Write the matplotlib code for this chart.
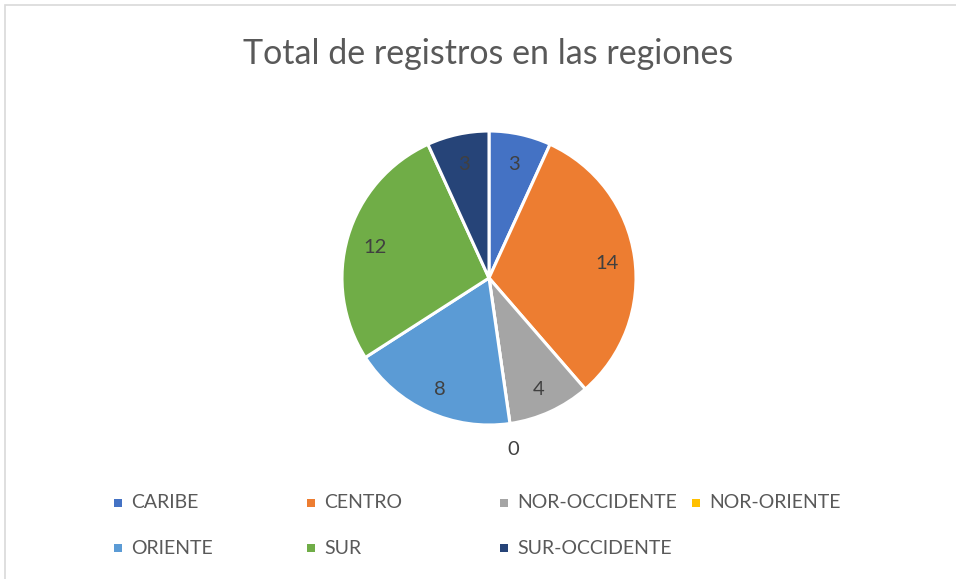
import numpy as np
import matplotlib
matplotlib.use("Agg")
from matplotlib import pyplot as plt
from matplotlib.patches import Rectangle

# chart data
regions = ['CARIBE', 'CENTRO', 'NOR-OCCIDENTE', 'NOR-ORIENTE',
           'ORIENTE', 'SUR', 'SUR-OCCIDENTE']
counts = [3, 14, 4, 0, 8, 12, 3]
colors = ['#4472C4', '#ED7D31', '#A5A5A5', '#FFC000',
          '#5B9BD5', '#70AD47', '#264478']

W, H = 956, 579
plt.rcParams['font.family'] = ['Lato', 'DejaVu Sans']

fig = plt.figure(figsize=(W / 100, H / 100), dpi=100)
fig.patch.set_facecolor('white')

# chart border (cropped at right/bottom)
fig.add_artist(Rectangle((5 / W, -0.1), 1.2, 1 - 5 / H + 0.1,
                         transform=fig.transFigure, fill=False,
                         edgecolor='#D9D9D9', linewidth=1.2))

fig.text(488 / W, 1 - 54 / H, 'Total de registros en las regiones',
         ha='center', va='center', fontsize=24.5, color='#595959')

# pie
cx, cy, r = 489, 278, 147
half = 200
ax = fig.add_axes([(cx - half) / W, (H - cy - half) / H, 2 * half / W, 2 * half / H])
lim = half / r
ax.axis('off')

wedges, _ = ax.pie(counts, colors=colors, startangle=90, counterclock=False,
                   radius=1, wedgeprops={'edgecolor': 'white', 'linewidth': 2.2})
ax.set_xlim(-lim, lim)
ax.set_ylim(-lim, lim)

for w, v in zip(wedges, counts):
    ang = np.deg2rad((w.theta1 + w.theta2) / 2)
    d = 0.81 if v > 0 else 1.16
    ax.text(d * np.cos(ang), d * np.sin(ang) - 0.02, str(v), ha='center', va='center',
            fontsize=14.5, color='#404040')

# legend: 4 evenly spaced columns, 2 rows
col_x = [118, 311, 504, 696]
row_y = [503, 548]
for i, (name, c) in enumerate(zip(regions, colors)):
    x = col_x[i % 4]
    y = row_y[i // 4]
    fig.add_artist(Rectangle(((x - 4) / W, (H - y - 4) / H), 8 / W, 8 / H,
                             transform=fig.transFigure, facecolor=c, edgecolor='none'))
    fig.text((x + 13) / W, 1 - y / H, name, ha='left', va='center',
             fontsize=14, color='#595959')

fig.savefig('out.png', dpi=100)
